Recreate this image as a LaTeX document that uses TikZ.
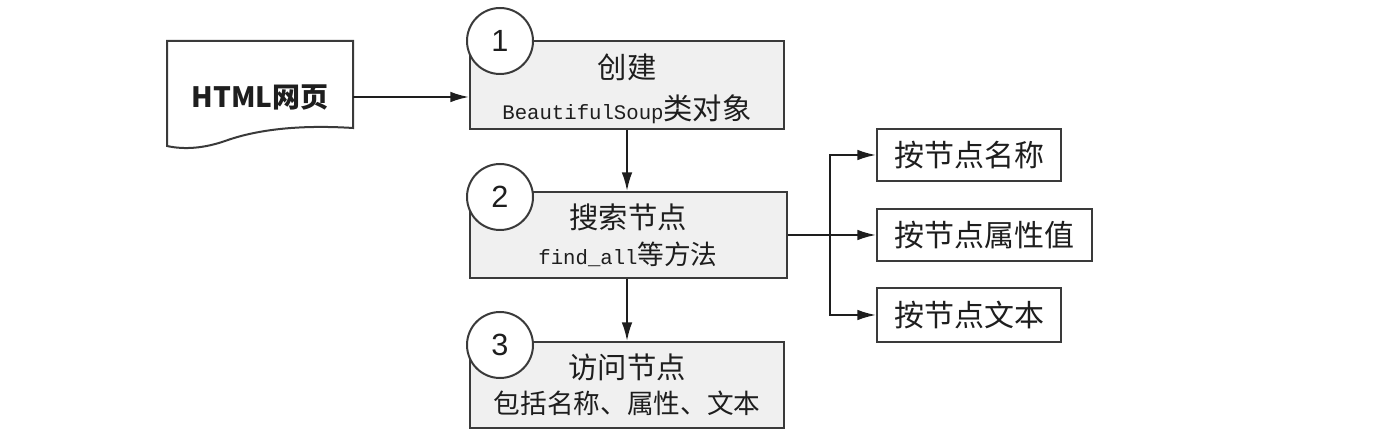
\documentclass[tikz,border=0pt]{standalone}
\usepackage{fontspec}
\newfontfamily\cjk{Noto Sans CJK SC}
\newfontfamily\monof{Liberation Mono}
\newfontfamily\numf{Liberation Sans}
\newcommand\subtf{\cjk\fontsize{20}{25}\selectfont}
\newcommand\codef{\monof\fontsize{15.5}{20}\selectfont}
\usetikzlibrary{arrows.meta}
\definecolor{edge}{HTML}{3A3A3A}
\definecolor{boxfill}{HTML}{F0F0F0}
\definecolor{ink}{HTML}{1E1E1E}
\tikzset{
  stepbox/.style={draw=edge, fill=boxfill, line width=1.5pt, inner sep=0pt,
    minimum width=235.5pt, minimum height=66pt, align=center, text=ink,
    font=\cjk\fontsize{22}{29}\selectfont},
  optbox/.style={draw=edge, fill=white, line width=1.5pt, inner sep=0pt,
    minimum height=39pt, align=center, text=ink,
    font=\cjk\fontsize{22.5}{29}\selectfont},
  numcirc/.style={circle, draw=edge, fill=white, line width=1.5pt, inner sep=0pt,
    minimum size=49.5pt, text=ink, font=\numf\fontsize{23}{26}\selectfont},
  conn/.style={draw=ink, line width=1.5pt, -{Latex[length=14pt,width=8pt]}},
}
\begin{document}
\begin{tikzpicture}[x=0.75pt,y=-0.75pt]
\useasboundingbox (0,0) rectangle (1376,448);
% document shape
\draw[draw=edge, fill=white, line width=1.5pt]
  (167,41) -- (353,41) -- (353,128)
  .. controls (290,124) and (250,132) .. (225,141)
  .. controls (205,148) and (185,150) .. (167,146) -- cycle;
\node[inner sep=0pt, minimum width=139.5pt, minimum height=84pt, text=ink,
  font=\cjk\bfseries\fontsize{21}{26}\selectfont] (doc) at (260,97) {HTML网页};
% main steps
\node[stepbox] (b1) at (627,85) {\rule{0pt}{24pt}创建\\[2pt]{\codef BeautifulSoup}类对象};
\node[stepbox, minimum width=237.75pt, minimum height=64.5pt] (b2) at (628,235)
  {搜索节点\\[-2pt]{\subtf{\codef find\_all}等方法}};
\node[stepbox, minimum height=64.5pt] (b3) at (627,385)
  {访问节点\\[-3pt]{\subtf 包括名称、属性、文本}};
% number circles
\node[numcirc] (c1) at (500,41) {1};
\node[numcirc] (c2) at (500,197) {2};
\node[numcirc] (c3) at (500,345) {3};
% option boxes
\node[optbox, minimum width=138pt] (r1) at (969,155) {按节点名称};
\node[optbox, minimum width=161.25pt] (r2) at (984.5,235) {按节点属性值};
\node[optbox, minimum width=138pt, minimum height=40.5pt] (r3) at (969,315) {按节点文本};
% connectors
\draw[conn] (doc.east) -- (b1.west |- doc.east);
\draw[conn] (b1.south) -- (b2.north -| b1.south);
\draw[conn] (b2.south -| b1.south) -- (b3.north);
\coordinate (j) at (830,235);
\draw[conn] (b2.east) -- (r2.west);
\draw[conn] (j) |- (r1.west);
\draw[conn] (j) |- (r3.west);
\end{tikzpicture}
\end{document}
